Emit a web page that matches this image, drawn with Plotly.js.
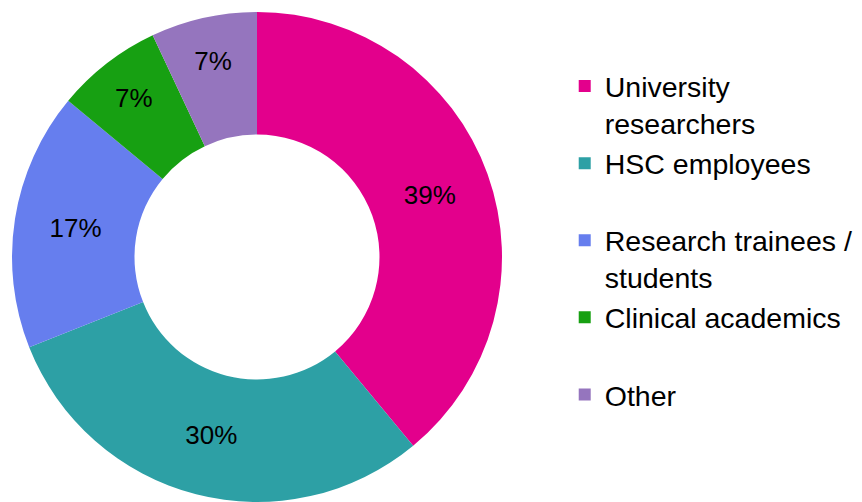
<!DOCTYPE html>
<html>
<head>
<meta charset="utf-8">
<script src="https://cdn.plot.ly/plotly-3.0.1.min.js"></script>
<style>html,body{margin:0;padding:0;background:#fff;}#chart{width:862px;height:502px;}</style>
</head>
<body>
<div id="chart"></div>
<script>
const categories = ["University<br>researchers", "HSC employees<br> ", "Research trainees /<br>students", "Clinical academics<br> ", "Other"];
const values = [39, 30, 17, 7, 7];
const colors = ["#E3008C", "#2DA0A5", "#667EEE", "#17A012", "#9575BE"];

const data = [{
  type: "pie",
  labels: categories,
  values: values,
  hole: 0.5,
  sort: false,
  direction: "clockwise",
  rotation: 0,
  marker: {colors: colors, line: {width: 0}},
  textinfo: "percent",
  textposition: "inside",
  insidetextorientation: "horizontal",
  textfont: {family: "Liberation Sans, Arial, sans-serif", size: 26, color: "#000"},
  hoverinfo: "label+percent",
  domain: {x: [0, 1], y: [0, 1]}
}];

const layout = {
  width: 862,
  height: 502,
  margin: {l: 12, r: 360, t: 12, b: 0},
  paper_bgcolor: "#fff",
  plot_bgcolor: "#fff",
  showlegend: true,
  legend: {
    x: 1.128, xanchor: "left",
    y: 0.90, yanchor: "top",
    valign: "top",
    font: {family: "Liberation Sans, Arial, sans-serif", size: 28.5, color: "#000"},
    traceorder: "normal"
  },
  font: {family: "Liberation Sans, Arial, sans-serif", color: "#000"}
};

Plotly.newPlot("chart", data, layout, {displayModeBar: false, staticPlot: true});
</script>
</body>
</html>
